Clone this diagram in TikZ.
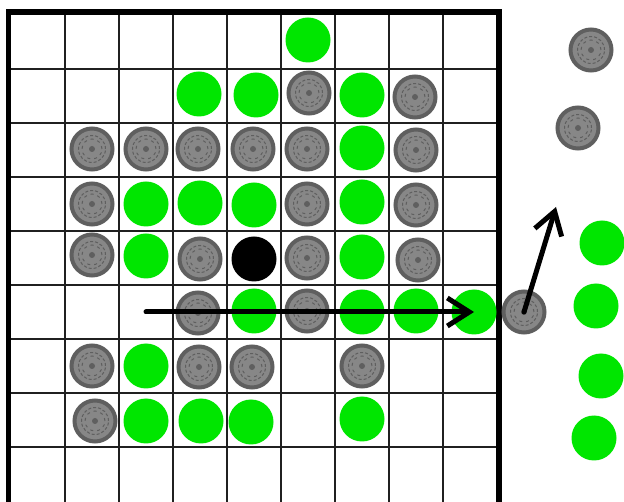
\documentclass[tikz,border=0pt]{standalone}
\usetikzlibrary{arrows.meta}
\definecolor{stgreen}{HTML}{00E600}
\definecolor{strim}{HTML}{5F5F5F}
\definecolor{stbody}{HTML}{878787}
\definecolor{gridink}{HTML}{202020}
\tikzset{
  grn/.style={circle, fill=stgreen, minimum size=45pt, inner sep=0pt},
  blk/.style={circle, fill=black, minimum size=45pt, inner sep=0pt},
  gry/.style={circle, fill=stbody, draw=strim, line width=4pt, minimum size=41pt, inner sep=0pt,
    path picture={
      \draw[strim, densely dashed, line width=1pt] (path picture bounding box.center) circle (13.5pt);
      \draw[strim, dash pattern=on 3pt off 4pt, line width=1pt] (path picture bounding box.center) circle (10pt);
      \fill[strim] (path picture bounding box.center) circle (3pt);
    }},
  mv/.style={-{Straight Barb[length=22pt,width=28pt]}, line width=5pt, line cap=round},
}
\begin{document}
\begin{tikzpicture}[x=1pt,y=-1pt]
  \useasboundingbox (0,0) rectangle (624,502);
  \fill[white] (0,0) rectangle (624,502);
  % board
  \foreach \i in {1,...,8} {
    \draw[gridink, line width=1.3pt] (11+54*\i,15) -- (11+54*\i,502);
    \draw[gridink, line width=1.3pt] (11,15+54*\i) -- (497,15+54*\i);
  }
  \draw[line width=5.5pt] (8.5,510) -- (8.5,12) -- (499,12) -- (499,510);
  % stones
  \foreach \n/\x/\y in {g1/308/40, g2/199/94, g3/256/95, g4/362/95, g5/362/148, g6/146/204, g7/200/203,
      g8/254/205, g9/362/202, g10/146/256, g11/362/257, g12/254/311, g13/362/312, g14/416/311, g15/474/312,
      g16/146/366, g17/146/421, g18/201/421, g19/251/422, g20/362/419,
      g21/602/243, g22/596/306, g23/601/376, g24/594/438}
    \node[grn] (\n) at (\x,\y) {};
  \foreach \n/\x/\y in {s1/309/93, s2/415/97, s3/92/149, s4/146/149, s5/198/149, s6/253/149, s7/307/149,
      s8/416/150, s9/92/204, s10/307/204, s11/416/205, s12/92/255, s13/200/259, s14/307/258, s15/418/260,
      s16/198/313, s17/307/311, s18/92/366, s19/199/367, s20/252/367, s21/362/366, s22/95/421,
      s23/591/50, s24/578/128, s25/524/312}
    \node[gry] (\n) at (\x,\y) {};
  \node[blk] (b1) at (254,259) {};
  % moves
  \coordinate (slide) at (146,312);
  \coordinate (jump) at (556,207);
  \draw[mv] (slide) -- (g15.center);
  \draw[mv] (s25.center) -- (jump);
\end{tikzpicture}
\end{document}
